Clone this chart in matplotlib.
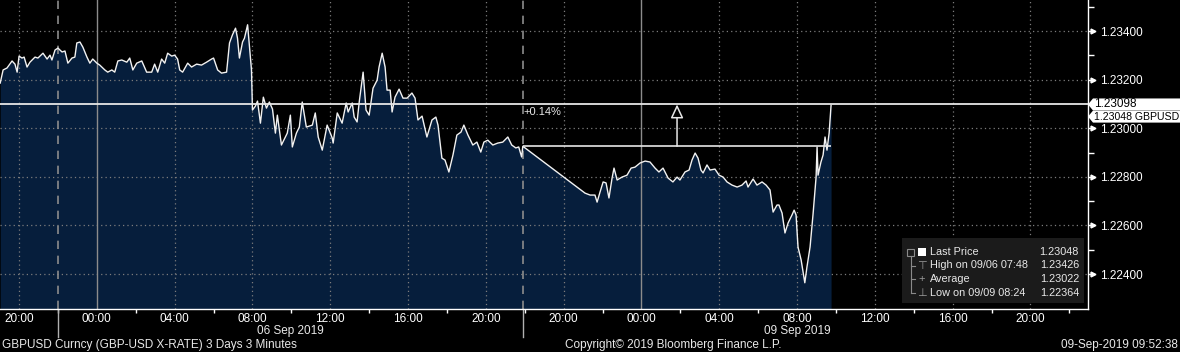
import numpy as np
import matplotlib.pyplot as plt
from matplotlib.patches import Polygon, Rectangle
from matplotlib.lines import Line2D
import matplotlib.transforms as mtransforms

plt.rcParams['font.family'] = ['Liberation Sans', 'DejaVu Sans']

# chart clock: hours since Thu 05 Sep 20:00, weekend gap removed
hours = [
    -0.97, -0.82, -0.62, -0.36, -0.21, -0.10, 0.00, 0.15, 0.26, 0.41, 0.56, 0.82, 0.97,
    1.23, 1.44, 1.59, 1.69, 1.85, 2.00, 2.21, 2.36, 2.51, 2.72, 2.87, 2.97, 3.13, 3.28,
    3.49, 3.64, 3.79, 4.00, 4.15, 4.41, 4.56, 4.77, 4.92, 5.08, 5.28, 5.54, 5.69, 5.85,
    6.05, 6.31, 6.56, 6.82, 6.97, 7.13, 7.33, 7.49, 7.64, 7.85, 8.00, 8.15, 8.26, 8.41,
    8.67, 8.87, 9.13, 9.38, 9.64, 9.90, 10.00, 10.21, 10.41, 10.67, 10.82, 10.97, 11.13,
    11.23, 11.33, 11.49, 11.59, 11.75, 11.85, 11.95, 12.00, 12.15, 12.26, 12.41, 12.56,
    12.72, 12.87, 13.03, 13.18, 13.28, 13.49, 13.69, 13.79, 13.95, 14.05, 14.26, 14.41,
    14.56, 14.77, 15.08, 15.23, 15.38, 15.59, 15.84, 16.10, 16.15, 16.36, 16.61, 16.82,
    16.92, 17.13, 17.23, 17.38, 17.49, 17.69, 17.84, 18.00, 18.20, 18.41, 18.51, 18.67,
    18.82, 18.92, 19.08, 19.18, 19.33, 19.54, 19.74, 19.95, 20.20, 20.36, 20.51, 20.72,
    20.97, 21.23, 21.43, 21.54, 21.74, 21.90, 22.10, 22.31, 22.51, 22.72, 22.87, 23.08,
    23.33, 23.54, 23.74, 23.90, 24.10, 24.36, 24.61, 24.87, 25.13, 25.33, 25.54, 25.69,
    25.84, 25.90,
    29.10, 29.36, 29.61, 29.72, 29.87, 30.03, 30.18, 30.33, 30.49, 30.59, 30.75, 31.00,
    31.26, 31.47, 31.67, 31.93, 32.19, 32.44, 32.70, 32.90, 33.11, 33.37, 33.62, 33.83,
    33.98, 34.24, 34.45, 34.60, 34.76, 34.91, 35.06, 35.17, 35.37, 35.53, 35.78, 35.99,
    36.20, 36.40, 36.66, 36.92, 37.17, 37.38, 37.48, 37.74, 37.94, 38.20, 38.41, 38.61,
    38.77, 38.97, 39.07, 39.23, 39.38, 39.54, 39.74, 39.85, 39.95, 40.05, 40.21, 40.40,
    40.51, 40.67, 40.82, 40.98, 41.03, 41.08, 41.23, 41.34, 41.44, 41.54, 41.65, 41.75,
]
price = [
    1.23186, 1.23240, 1.23248, 1.23277, 1.23264, 1.23231, 1.23297, 1.23289, 1.23293, 1.23252, 1.23272, 1.23293, 1.23289,
    1.23309, 1.23285, 1.23301, 1.23281, 1.23322, 1.23330, 1.23314, 1.23318, 1.23268, 1.23289, 1.23293, 1.23351, 1.23355, 1.23334,
    1.23293, 1.23268, 1.23285, 1.23268, 1.23260, 1.23240, 1.23231, 1.23240, 1.23231, 1.23277, 1.23281, 1.23272, 1.23289, 1.23240,
    1.23268, 1.23277, 1.23231, 1.23231, 1.23264, 1.23231, 1.23285, 1.23268, 1.23309, 1.23297, 1.23301, 1.23285, 1.23240, 1.23231,
    1.23268, 1.23252, 1.23264, 1.23260, 1.23272, 1.23285, 1.23289, 1.23240, 1.23227, 1.23231, 1.23351, 1.23384, 1.23412,
    1.23371, 1.23289, 1.23355, 1.23371, 1.23426, 1.23334, 1.23240, 1.23075, 1.23091, 1.23112, 1.23021, 1.23128,
    1.23083, 1.23108, 1.23079, 1.22980, 1.23054, 1.22931, 1.22964, 1.22980, 1.23054, 1.22923, 1.22980, 1.23005,
    1.23108, 1.23005, 1.23013, 1.23063, 1.22964, 1.22910, 1.23013, 1.22960, 1.22939, 1.23063, 1.23021, 1.23104,
    1.23067, 1.23104, 1.23046, 1.23026, 1.23108, 1.23231, 1.23075, 1.23054, 1.23165, 1.23198, 1.23252, 1.23309,
    1.23252, 1.23157, 1.23157, 1.23067, 1.23128, 1.23161, 1.23124, 1.23124, 1.23145, 1.23124, 1.23034, 1.23050,
    1.22964, 1.23034, 1.23046, 1.23013, 1.22877, 1.22869, 1.22820, 1.22890, 1.22972, 1.22984, 1.23013, 1.22972,
    1.22931, 1.22943, 1.22902, 1.22943, 1.22951, 1.22931, 1.22939, 1.22943, 1.22964, 1.22931, 1.22919, 1.22923,
    1.22882, 1.22926,
    1.22733, 1.22725, 1.22725, 1.22696, 1.22737, 1.22779, 1.22775, 1.22713, 1.22795, 1.22836, 1.22787, 1.22799,
    1.22807, 1.22836, 1.22840, 1.22857, 1.22865, 1.22861, 1.22836, 1.22820, 1.22836, 1.22795, 1.22779, 1.22799,
    1.22787, 1.22820, 1.22828, 1.22869, 1.22898, 1.22877, 1.22828, 1.22816, 1.22849, 1.22828, 1.22832, 1.22807,
    1.22799, 1.22779, 1.22766, 1.22758, 1.22766, 1.22783, 1.22758, 1.22791, 1.22766, 1.22779, 1.22766, 1.22746,
    1.22655, 1.22684, 1.22684, 1.22651, 1.22569, 1.22610, 1.22643, 1.22663, 1.22643, 1.22511, 1.22458, 1.22364,
    1.22429, 1.22511, 1.22643, 1.22799, 1.22923, 1.22807, 1.22861, 1.22890, 1.22964, 1.22910, 1.22980, 1.23095,
]

last_price = 1.23048
high_price, high_time = 1.23426, '09/06 07:48'
avg_price = 1.23022
low_price, low_time = 1.22364, '09/09 08:24'
ref_level = 1.22926     # Friday close
cur_level = 1.23098
pct_text = '+0.14%'
ticker = 'GBPUSD'

tick_hours = [0, 4, 8, 12, 16, 20, 24, 28, 32, 36, 40, 44, 48, 52]
tick_labels = ['20:00', '00:00', '04:00', '08:00', '12:00', '16:00', '20:00',
               '20:00', '00:00', '04:00', '08:00', '12:00', '16:00', '20:00']
day_starts = [4, 32]
session_breaks = [2.0, 25.9]
date_hours = [13.95, 40.0]
date_labels = ['06 Sep 2019', '09 Sep 2019']
price_ticks = [1.224, 1.226, 1.228, 1.230, 1.232, 1.234]

W, H = 1180, 352
fig = plt.figure(figsize=(W / 100, H / 100), dpi=100, facecolor='black')
ax = fig.add_axes([0, 1 - 309 / H, 1088 / W, 309 / H], facecolor='black')
ax.set_xlim(-0.98, 54.96)
ax.set_ylim(1.22256, 1.23528)

fg = '#e8e8e8'
ax.fill_between(hours, price, 1.22256, color='#061e3c', lw=0, zorder=1)
ax.plot(hours, price, color='#f2f2f2', lw=1.0, zorder=4)

# grid
for p in price_ticks:
    ax.axhline(p, color='#7c7c7c', lw=0.9, ls=(0, (1, 2.5)), zorder=2)
for t in tick_hours:
    if t in day_starts:
        ax.axvline(t, color='#8c8c8c', lw=1, zorder=2)
    else:
        ax.axvline(t, color='#7c7c7c', lw=0.9, ls=(0, (1, 2.5)), zorder=2)
for b in session_breaks:
    ax.axvline(b, color='#8c8c8c', lw=1.2, ls=(0, (5, 4)), zorder=2)

# spines and ticks
for s in ['top', 'left']:
    ax.spines[s].set_visible(False)
for s in ['right', 'bottom']:
    ax.spines[s].set_color('white')
    ax.spines[s].set_linewidth(1)

ax.yaxis.tick_right()
ax.set_yticks(price_ticks)
ax.set_yticklabels([f'{p:.5f}' for p in price_ticks])
ax.set_yticks(list(np.array(price_ticks) + 0.001), minor=True)
ax.tick_params(axis='y', which='major', colors='white', length=4, width=1, labelsize=8.5, pad=5)
ax.tick_params(axis='y', which='minor', colors='white', length=4, width=1)
ytr = mtransforms.blended_transform_factory(ax.transAxes, ax.transData)
ax.plot([1 + 5 / 1088] * len(price_ticks), price_ticks, ls='', marker='>', ms=3.5,
        color='white', transform=ytr, clip_on=False, zorder=6)

ax.set_xticks(tick_hours)
ax.set_xticklabels(tick_labels)
ax.set_xticks(np.array(tick_hours) + 2, minor=True)
ax.tick_params(axis='x', which='major', colors='white', length=0, labelsize=8.5, pad=3)
ax.tick_params(axis='x', which='minor', colors='white', length=3, width=1)

xtr = mtransforms.blended_transform_factory(ax.transData, ax.transAxes)
for b in session_breaks:
    ax.plot([b, b], [0, -28 / 309], color='#b0b0b0', lw=1, transform=xtr, clip_on=False)
for t, lab in zip(date_hours, date_labels):
    ax.text(t, -22 / 309, lab, transform=xtr, ha='center', va='center', color=fg, fontsize=8.5)

# change annotation
ax.axhline(cur_level, color='#e6e6e6', lw=1.3, zorder=5)
ax.hlines(ref_level, session_breaks[1], hours[-1], color='#e6e6e6', lw=1.2, zorder=5)
ax.annotate('', xy=(33.83, cur_level), xytext=(33.83, ref_level),
            arrowprops=dict(arrowstyle='-|>,head_length=0.75,head_width=0.35', fc='black',
                            ec='#e6e6e6', lw=1.1, shrinkA=0, shrinkB=0, mutation_scale=11),
            zorder=6)
ax.text(session_breaks[1] + 0.05, cur_level - 0.00029, pct_text, color=fg, fontsize=8,
        ha='left', va='center', zorder=6)


def fx(x):
    return x / W


def fy(y):
    return 1 - y / H


# price tags on the right axis
for v, lab, fs in [(cur_level, f'{cur_level:.5f}', 8.5),
                   (last_price, f'{last_price:.5f} {ticker}', 7.6)]:
    yp = H - ax.transData.transform((0, v))[1]
    pts = [(1088, yp), (1093, yp - 6), (1180, yp - 6), (1180, yp + 6), (1093, yp + 6)]
    fig.add_artist(Polygon([(fx(a), fy(b)) for a, b in pts], closed=True, fc='white', ec='none',
                           transform=fig.transFigure, zorder=10))
    fig.text(fx(1094), fy(yp), lab, color='black', fontsize=fs, ha='left', va='center', zorder=11)

# legend box
fig.add_artist(Rectangle((fx(902), fy(303)), 182 / W, 65 / H, transform=fig.transFigure,
                         fc='#1b1b1b', ec='none', zorder=10))
rows = [252, 265.5, 279, 292.5]
names = ['Last Price', f'High on {high_time}', 'Average', f'Low on {low_time}']
vals = [last_price, high_price, avg_price, low_price]
for y, n, v in zip(rows, names, vals):
    fig.text(fx(930), fy(y), n, color=fg, fontsize=7.8, ha='left', va='center', zorder=11)
    fig.text(fx(1079), fy(y), f'{v:.5f}', color=fg, fontsize=7.8, ha='right', va='center', zorder=11)
fig.add_artist(Rectangle((fx(918), fy(256)), 8 / W, 8 / H, transform=fig.transFigure,
                         fc='white', ec='none', zorder=11))
fig.add_artist(Rectangle((fx(907.5), fy(255.5)), 7 / W, 7 / H, transform=fig.transFigure,
                         fc='none', ec='#8a8a8a', lw=0.8, zorder=11))
fig.add_artist(Line2D([fx(911), fx(911)], [fy(256), fy(rows[3])], color='#8a8a8a', lw=0.8,
                      transform=fig.transFigure, zorder=11))
for y in rows[1:]:
    fig.add_artist(Line2D([fx(911), fx(915)], [fy(y), fy(y)], color='#8a8a8a', lw=0.8,
                          transform=fig.transFigure, zorder=11))
for y, g in zip(rows[1:], ['\u22a4', '+', '\u22a5']):
    fig.text(fx(922), fy(y), g, color='#9a9a9a', fontsize=8, ha='center', va='center', zorder=11)

# footer
fig.text(fx(2), fy(345), 'GBPUSD Curncy (GBP-USD X-RATE) 3 Days 3 Minutes', color=fg,
         fontsize=8.5, ha='left', va='center')
fig.text(fx(565), fy(345), 'Copyright\u00a9 2019 Bloomberg Finance L.P.', color=fg,
         fontsize=8.5, ha='left', va='center')
fig.text(fx(1178), fy(345), '09-Sep-2019 09:52:38', color=fg, fontsize=8.5, ha='right', va='center')

fig.savefig('out.png', dpi=100, facecolor='black')
